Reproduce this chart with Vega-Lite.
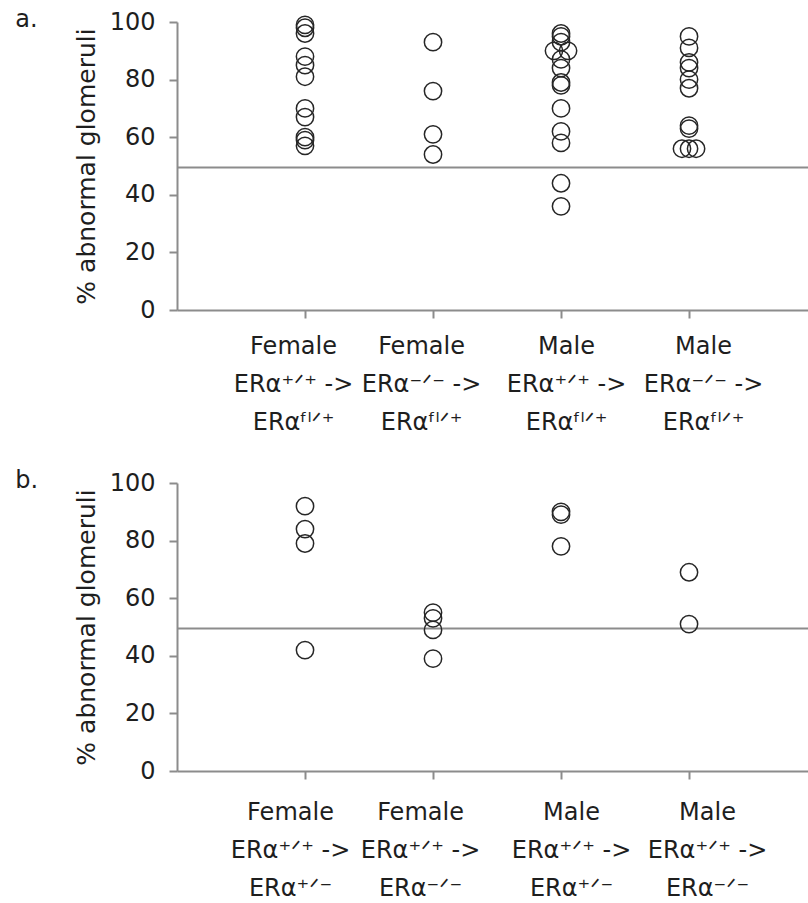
{
  "$schema": "https://vega.github.io/schema/vega-lite/v6.json",
  "background": "white",
  "padding": {"left": 15, "top": 8, "right": 0, "bottom": 0},
  "config": {
    "font": "DejaVu Sans",
    "view": {"stroke": null},
    "concat": {"spacing": 35},
    "axis": {
      "grid": false,
      "domainColor": "#8c8c8c",
      "domainWidth": 2,
      "tickColor": "#8c8c8c",
      "tickWidth": 2,
      "tickSize": 8,
      "labelColor": "#1e1e1e",
      "titleColor": "#1e1e1e",
      "labelFontSize": 24,
      "titleFontSize": 25,
      "titleFontWeight": "normal"
    },
    "title": {"fontSize": 24, "fontWeight": "normal", "color": "#1e1e1e", "anchor": "start", "frame": "bounds", "offset": 0}
  },
  "datasets": {
    "transfer_fl": [
      {"group": "Female ERα+/+ -> ERαfl/+", "pos": 1, "pct": 99},
      {"group": "Female ERα+/+ -> ERαfl/+", "pos": 1, "pct": 98},
      {"group": "Female ERα+/+ -> ERαfl/+", "pos": 1, "pct": 96},
      {"group": "Female ERα+/+ -> ERαfl/+", "pos": 1, "pct": 88},
      {"group": "Female ERα+/+ -> ERαfl/+", "pos": 1, "pct": 85},
      {"group": "Female ERα+/+ -> ERαfl/+", "pos": 1, "pct": 81},
      {"group": "Female ERα+/+ -> ERαfl/+", "pos": 1, "pct": 70},
      {"group": "Female ERα+/+ -> ERαfl/+", "pos": 1, "pct": 67},
      {"group": "Female ERα+/+ -> ERαfl/+", "pos": 1, "pct": 60},
      {"group": "Female ERα+/+ -> ERαfl/+", "pos": 1, "pct": 59},
      {"group": "Female ERα+/+ -> ERαfl/+", "pos": 1, "pct": 57},
      {"group": "Female ERα-/- -> ERαfl/+", "pos": 2, "pct": 93},
      {"group": "Female ERα-/- -> ERαfl/+", "pos": 2, "pct": 76},
      {"group": "Female ERα-/- -> ERαfl/+", "pos": 2, "pct": 61},
      {"group": "Female ERα-/- -> ERαfl/+", "pos": 2, "pct": 54},
      {"group": "Male ERα+/+ -> ERαfl/+", "pos": 3, "pct": 96},
      {"group": "Male ERα+/+ -> ERαfl/+", "pos": 3, "pct": 95},
      {"group": "Male ERα+/+ -> ERαfl/+", "pos": 3, "pct": 93},
      {"group": "Male ERα+/+ -> ERαfl/+", "pos": 2.945, "pct": 90},
      {"group": "Male ERα+/+ -> ERαfl/+", "pos": 3.055, "pct": 90},
      {"group": "Male ERα+/+ -> ERαfl/+", "pos": 3, "pct": 87},
      {"group": "Male ERα+/+ -> ERαfl/+", "pos": 3, "pct": 84},
      {"group": "Male ERα+/+ -> ERαfl/+", "pos": 3, "pct": 79},
      {"group": "Male ERα+/+ -> ERαfl/+", "pos": 3, "pct": 78},
      {"group": "Male ERα+/+ -> ERαfl/+", "pos": 3, "pct": 70},
      {"group": "Male ERα+/+ -> ERαfl/+", "pos": 3, "pct": 62},
      {"group": "Male ERα+/+ -> ERαfl/+", "pos": 3, "pct": 58},
      {"group": "Male ERα+/+ -> ERαfl/+", "pos": 3, "pct": 44},
      {"group": "Male ERα+/+ -> ERαfl/+", "pos": 3, "pct": 36},
      {"group": "Male ERα-/- -> ERαfl/+", "pos": 4, "pct": 95},
      {"group": "Male ERα-/- -> ERαfl/+", "pos": 4, "pct": 91},
      {"group": "Male ERα-/- -> ERαfl/+", "pos": 4, "pct": 86},
      {"group": "Male ERα-/- -> ERαfl/+", "pos": 4, "pct": 84},
      {"group": "Male ERα-/- -> ERαfl/+", "pos": 4, "pct": 80},
      {"group": "Male ERα-/- -> ERαfl/+", "pos": 4, "pct": 77},
      {"group": "Male ERα-/- -> ERαfl/+", "pos": 4, "pct": 64},
      {"group": "Male ERα-/- -> ERαfl/+", "pos": 4, "pct": 63},
      {"group": "Male ERα-/- -> ERαfl/+", "pos": 3.945, "pct": 56},
      {"group": "Male ERα-/- -> ERαfl/+", "pos": 4, "pct": 56},
      {"group": "Male ERα-/- -> ERαfl/+", "pos": 4.055, "pct": 56}
    ],
    "transfer_het_ko": [
      {"group": "Female ERα+/+ -> ERα+/-", "pos": 1, "pct": 92},
      {"group": "Female ERα+/+ -> ERα+/-", "pos": 1, "pct": 84},
      {"group": "Female ERα+/+ -> ERα+/-", "pos": 1, "pct": 79},
      {"group": "Female ERα+/+ -> ERα+/-", "pos": 1, "pct": 42},
      {"group": "Female ERα+/+ -> ERα-/-", "pos": 2, "pct": 55},
      {"group": "Female ERα+/+ -> ERα-/-", "pos": 2, "pct": 53},
      {"group": "Female ERα+/+ -> ERα-/-", "pos": 2, "pct": 49},
      {"group": "Female ERα+/+ -> ERα-/-", "pos": 2, "pct": 39},
      {"group": "Male ERα+/+ -> ERα+/-", "pos": 3, "pct": 90},
      {"group": "Male ERα+/+ -> ERα+/-", "pos": 3, "pct": 89},
      {"group": "Male ERα+/+ -> ERα+/-", "pos": 3, "pct": 78},
      {"group": "Male ERα+/+ -> ERα-/-", "pos": 4, "pct": 69},
      {"group": "Male ERα+/+ -> ERα-/-", "pos": 4, "pct": 51}
    ],
    "threshold": [{"pct": 49.5}]
  },
  "vconcat": [
    {
      "title": {"text": "a.", "dx": -59, "dy": 26},
      "width": 633,
      "height": 288,
      "layer": [
        {
          "data": {"name": "threshold"},
          "mark": {"type": "rule", "color": "#8c8c8c", "strokeWidth": 2},
          "encoding": {"y": {"field": "pct", "type": "quantitative", "scale": {"domain": [0, 100], "nice": false}}}
        },
        {
          "data": {"name": "transfer_fl"},
          "mark": {"type": "point", "shape": "circle", "filled": false, "size": 300, "strokeWidth": 1.5, "color": "#262626", "opacity": 1},
          "encoding": {
            "x": {
              "field": "pos", "type": "quantitative",
              "scale": {"domain": [0, 4.945], "nice": false, "zero": false},
              "axis": {
                "title": null, "values": [1, 2, 3, 4], "labelPadding": 16, "labelLineHeight": 38,
                "labelOffset": {"condition": [{"test": "datum.value == 1", "value": -12}, {"test": "datum.value == 2", "value": -12}, {"test": "datum.value == 3", "value": 5}], "value": 14},
                "labelExpr": "datum.value == 1 ? ['Female', 'ERα⁺ᐟ⁺ ->', 'ERαᶠˡᐟ⁺'] : datum.value == 2 ? ['Female', 'ERα⁻ᐟ⁻ ->', 'ERαᶠˡᐟ⁺'] : datum.value == 3 ? ['Male', 'ERα⁺ᐟ⁺ ->', 'ERαᶠˡᐟ⁺'] : ['Male', 'ERα⁻ᐟ⁻ ->', 'ERαᶠˡᐟ⁺']"
              }
            },
            "y": {
              "field": "pct", "type": "quantitative",
              "scale": {"domain": [0, 100], "nice": false},
              "axis": {"title": "% abnormal glomeruli", "values": [0, 20, 40, 60, 80, 100], "labelPadding": 14, "titlePadding": 10}
            }
          }
        }
      ]
    },
    {
      "title": {"text": "b.", "dx": -59, "dy": 26},
      "width": 633,
      "height": 288,
      "layer": [
        {
          "data": {"name": "threshold"},
          "mark": {"type": "rule", "color": "#8c8c8c", "strokeWidth": 2},
          "encoding": {"y": {"field": "pct", "type": "quantitative", "scale": {"domain": [0, 100], "nice": false}}}
        },
        {
          "data": {"name": "transfer_het_ko"},
          "mark": {"type": "point", "shape": "circle", "filled": false, "size": 300, "strokeWidth": 1.5, "color": "#262626", "opacity": 1},
          "encoding": {
            "x": {
              "field": "pos", "type": "quantitative",
              "scale": {"domain": [0, 4.945], "nice": false, "zero": false},
              "axis": {
                "title": null, "values": [1, 2, 3, 4], "labelPadding": 21, "labelLineHeight": 38,
                "labelOffset": {"condition": [{"test": "datum.value == 1", "value": -15}, {"test": "datum.value == 2", "value": -13}, {"test": "datum.value == 3", "value": 10}], "value": 18},
                "labelExpr": "datum.value == 1 ? ['Female', 'ERα⁺ᐟ⁺ ->', 'ERα⁺ᐟ⁻'] : datum.value == 2 ? ['Female', 'ERα⁺ᐟ⁺ ->', 'ERα⁻ᐟ⁻'] : datum.value == 3 ? ['Male', 'ERα⁺ᐟ⁺ ->', 'ERα⁺ᐟ⁻'] : ['Male', 'ERα⁺ᐟ⁺ ->', 'ERα⁻ᐟ⁻']"
              }
            },
            "y": {
              "field": "pct", "type": "quantitative",
              "scale": {"domain": [0, 100], "nice": false},
              "axis": {"title": "% abnormal glomeruli", "values": [0, 20, 40, 60, 80, 100], "labelPadding": 14, "titlePadding": 10}
            }
          }
        }
      ]
    }
  ]
}
